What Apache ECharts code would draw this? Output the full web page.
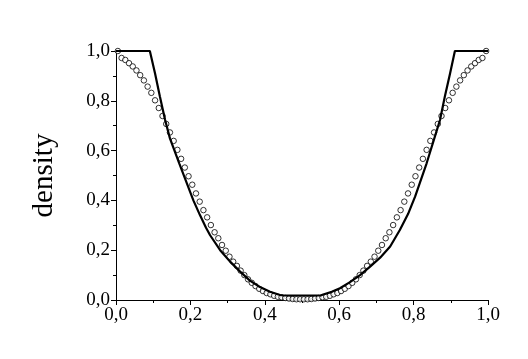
<!DOCTYPE html>
<html>
<head>
<meta charset="utf-8">
<script src="https://cdn.jsdelivr.net/npm/echarts@6/dist/echarts.min.js"></script>
<style>
html,body{margin:0;padding:0;background:#fff;}
#chart{width:528px;height:359px;}
</style>
</head>
<body>
<div id="chart"></div>
<script>
// solid line (model)
var lineX = [0, 0.091, 0.105, 0.118, 0.132, 0.145, 0.170, 0.208, 0.226, 0.242, 0.253, 0.280, 0.306, 0.333, 0.360, 0.387, 0.414, 0.441, 0.450,
	0.550, 0.557, 0.580, 0.602, 0.629, 0.656, 0.683, 0.710, 0.737, 0.763, 0.785, 0.804, 0.835, 0.858, 0.871, 0.884, 0.898, 0.911, 1.0];
var lineY = [1.0, 1.0, 0.91, 0.817, 0.723, 0.649, 0.549, 0.40, 0.34, 0.29, 0.26, 0.20, 0.155, 0.115, 0.078, 0.052, 0.033, 0.020, 0.018,
	0.018, 0.022, 0.033, 0.047, 0.072, 0.100, 0.134, 0.170, 0.215, 0.281, 0.345, 0.415, 0.549, 0.66, 0.723, 0.817, 0.91, 1.0, 1.0];

// open circles (simulation)
var circleX = [0.005, 0.015, 0.025, 0.035, 0.045, 0.055, 0.065, 0.075, 0.085, 0.095,
	0.105, 0.115, 0.125, 0.135, 0.145, 0.155, 0.165, 0.175, 0.185, 0.195,
	0.205, 0.215, 0.225, 0.235, 0.245, 0.255, 0.265, 0.275, 0.285, 0.295,
	0.305, 0.315, 0.325, 0.335, 0.345, 0.355, 0.365, 0.375, 0.385, 0.395,
	0.405, 0.415, 0.425, 0.435, 0.445, 0.455, 0.465, 0.475, 0.485, 0.495,
	0.505, 0.515, 0.525, 0.535, 0.545, 0.555, 0.565, 0.575, 0.585, 0.595,
	0.605, 0.615, 0.625, 0.635, 0.645, 0.655, 0.665, 0.675, 0.685, 0.695,
	0.705, 0.715, 0.725, 0.735, 0.745, 0.755, 0.765, 0.775, 0.785, 0.795,
	0.805, 0.815, 0.825, 0.835, 0.845, 0.855, 0.865, 0.875, 0.885, 0.895,
	0.905, 0.915, 0.925, 0.935, 0.945, 0.955, 0.965, 0.975, 0.985, 0.995];
var circleY = [1.0, 0.972, 0.964, 0.951, 0.938, 0.922, 0.903, 0.882, 0.857, 0.832,
	0.802, 0.771, 0.739, 0.707, 0.673, 0.639, 0.603, 0.567, 0.532, 0.497,
	0.463, 0.428, 0.395, 0.361, 0.332, 0.301, 0.272, 0.248, 0.221, 0.198,
	0.174, 0.154, 0.137, 0.118, 0.100, 0.083, 0.069, 0.056, 0.045, 0.036,
	0.028, 0.023, 0.017, 0.013, 0.011, 0.008, 0.006, 0.004, 0.003, 0.003,
	0.003, 0.003, 0.004, 0.006, 0.008, 0.011, 0.013, 0.017, 0.023, 0.028,
	0.036, 0.045, 0.056, 0.069, 0.083, 0.100, 0.118, 0.137, 0.154, 0.174,
	0.198, 0.221, 0.248, 0.272, 0.301, 0.332, 0.361, 0.395, 0.428, 0.463,
	0.497, 0.532, 0.567, 0.603, 0.639, 0.673, 0.707, 0.739, 0.771, 0.802,
	0.832, 0.857, 0.882, 0.903, 0.922, 0.938, 0.951, 0.964, 0.972, 1.0];

var yName = 'density';

function pairs(xs, ys){
	var out = [];
	for(var i = 0; i < xs.length; i++){
		out.push([xs[i], ys[i]]);
	}
	return out;
}
function commaLabel(v){
	return v.toFixed(1).replace('.', ',');
}

var chart = echarts.init(document.getElementById('chart'));
var font = '"Liberation Serif", "Times New Roman", serif';
chart.setOption({
	animation: false,
	grid: {left: 116, right: 40, top: 51, bottom: 59},
	xAxis: {
		type: 'value',
		min: 0, max: 1, interval: 0.2,
		axisLine: {show: true, lineStyle: {color: '#000', width: 1}},
		axisTick: {show: true, inside: false, length: 5, lineStyle: {color: '#000'}},
		minorTick: {show: true, splitNumber: 2, length: 3, lineStyle: {color: '#000'}},
		splitLine: {show: false},
		axisLabel: {color: '#000', fontFamily: font, fontSize: 19, margin: 6, formatter: commaLabel}
	},
	yAxis: {
		type: 'value',
		min: 0, max: 1, interval: 0.2,
		name: yName,
		nameLocation: 'middle',
		nameGap: 57,
		nameRotate: 90,
		nameTextStyle: {color: '#000', fontFamily: font, fontSize: 29},
		axisLine: {show: true, lineStyle: {color: '#000', width: 1}},
		axisTick: {show: true, inside: false, length: 5, lineStyle: {color: '#000'}},
		minorTick: {show: true, splitNumber: 2, length: 3, lineStyle: {color: '#000'}},
		splitLine: {show: false},
		axisLabel: {color: '#000', fontFamily: font, fontSize: 19, margin: 6, formatter: commaLabel}
	},
	series: [
		{
			type: 'scatter',
			data: pairs(circleX, circleY),
			symbol: 'circle',
			symbolSize: 5.5,
			itemStyle: {color: '#fff', borderColor: '#000', borderWidth: 1},
			z: 2
		},
		{
			type: 'line',
			data: pairs(lineX, lineY),
			showSymbol: false,
			smooth: false,
			lineStyle: {color: '#000', width: 2.2},
			z: 3
		}
	]
});
</script>
</body>
</html>
